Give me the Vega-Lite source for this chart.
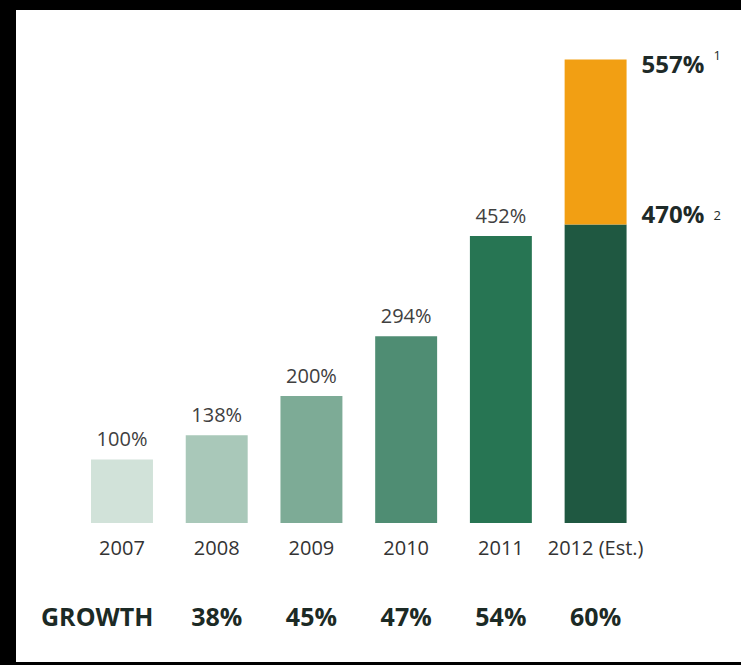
{
  "$schema": "https://vega.github.io/schema/vega-lite/v6.json",
  "width": 725,
  "height": 652,
  "autosize": {"type": "none"},
  "padding": {"left": 16, "top": 10, "right": 0, "bottom": 3},
  "background": "black",
  "config": {
    "view": {"fill": "white", "stroke": null},
    "text": {"font": "Open Sans"}
  },
  "datasets": {
    "bars": [
      {"year": "2007", "segment": "2007", "start": 0, "end": 100, "label": "100%"},
      {"year": "2008", "segment": "2008", "start": 0, "end": 138, "label": "138%"},
      {"year": "2009", "segment": "2009", "start": 0, "end": 200, "label": "200%"},
      {"year": "2010", "segment": "2010", "start": 0, "end": 294, "label": "294%"},
      {"year": "2011", "segment": "2011", "start": 0, "end": 452, "label": "452%"},
      {"year": "2012 (Est.)", "segment": "2012", "start": 0, "end": 470, "label": "470%"},
      {"year": "2012 (Est.)", "segment": "2012 upper", "start": 470, "end": 730, "label": "557%"}
    ],
    "years": [
      {"year": "2007", "growth": ""},
      {"year": "2008", "growth": "38%"},
      {"year": "2009", "growth": "45%"},
      {"year": "2010", "growth": "47%"},
      {"year": "2011", "growth": "54%"},
      {"year": "2012 (Est.)", "growth": "60%"}
    ],
    "notes": [
      {"year": "2012 (Est.)", "segment": "2012 upper", "end": 730, "label": "557%", "note": "1"},
      {"year": "2012 (Est.)", "segment": "2012", "end": 470, "label": "470%", "note": "2"}
    ]
  },
  "encoding": {
    "x": {
      "field": "year",
      "type": "nominal",
      "sort": null,
      "axis": null,
      "scale": {
        "domain": ["2007", "2008", "2009", "2010", "2011", "2012 (Est.)"],
        "paddingInner": 0.346,
        "paddingOuter": 1.026,
        "align": 0.396
      }
    }
  },
  "layer": [
    {
      "data": {"name": "bars"},
      "mark": {"type": "bar"},
      "encoding": {
        "y": {
          "field": "end",
          "type": "quantitative",
          "axis": null,
          "scale": {"domain": [-219, 808], "nice": false, "zero": false}
        },
        "y2": {"field": "start"},
        "color": {
          "field": "segment",
          "type": "nominal",
          "legend": null,
          "scale": {
            "domain": ["2007", "2008", "2009", "2010", "2011", "2012", "2012 upper"],
            "range": ["#d1e2d9", "#a9c8b9", "#7dab96", "#4f8d73", "#277553", "#1f5841", "#f29f13"]
          }
        }
      }
    },
    {
      "data": {"name": "bars"},
      "transform": [{"filter": "datum.year != '2012 (Est.)'"}],
      "mark": {"type": "text", "baseline": "alphabetic", "dy": -13, "fontSize": 20, "color": "#404040"},
      "encoding": {
        "y": {"field": "end", "type": "quantitative"},
        "text": {"field": "label"}
      }
    },
    {
      "data": {"name": "years"},
      "mark": {"type": "text", "baseline": "alphabetic", "fontSize": 20, "color": "#333333"},
      "encoding": {
        "y": {"datum": -50},
        "text": {"field": "year"}
      }
    },
    {
      "data": {"name": "years"},
      "mark": {"type": "text", "baseline": "alphabetic", "fontSize": 25, "fontWeight": "bold", "color": "#1c2a25"},
      "encoding": {
        "y": {"datum": -163},
        "text": {"field": "growth"}
      }
    },
    {
      "data": {"values": [{"row": "GROWTH"}]},
      "mark": {"type": "text", "baseline": "alphabetic", "align": "left", "dx": -50, "fontSize": 25, "fontWeight": "bold", "color": "#1c2a25"},
      "encoding": {
        "x": {"datum": "2007", "bandPosition": 0},
        "y": {"datum": -163},
        "text": {"field": "row"}
      }
    },
    {
      "data": {"name": "notes"},
      "transform": [{"filter": "datum.note == '1'"}],
      "layer": [
        {
          "mark": {"type": "text", "baseline": "alphabetic", "align": "left", "dx": 15, "dy": 13, "fontSize": 24, "fontWeight": "bold", "color": "#1e2a28"},
          "encoding": {
            "x": {"field": "year", "bandPosition": 1},
            "y": {"field": "end", "type": "quantitative"},
            "text": {"field": "label"}
          }
        },
        {
          "mark": {"type": "text", "baseline": "alphabetic", "align": "left", "dx": 87, "dy": 0, "fontSize": 13, "color": "#1e2a28"},
          "encoding": {
            "x": {"field": "year", "bandPosition": 1},
            "y": {"field": "end", "type": "quantitative"},
            "text": {"field": "note"}
          }
        }
      ]
    },
    {
      "data": {"name": "notes"},
      "transform": [{"filter": "datum.note == '2'"}],
      "layer": [
        {
          "mark": {"type": "text", "baseline": "alphabetic", "align": "left", "dx": 15, "dy": -1.5, "fontSize": 24, "fontWeight": "bold", "color": "#1e2a28"},
          "encoding": {
            "x": {"field": "year", "bandPosition": 1},
            "y": {"field": "end", "type": "quantitative"},
            "text": {"field": "label"}
          }
        },
        {
          "mark": {"type": "text", "baseline": "alphabetic", "align": "left", "dx": 87, "dy": -4.5, "fontSize": 13, "color": "#1e2a28"},
          "encoding": {
            "x": {"field": "year", "bandPosition": 1},
            "y": {"field": "end", "type": "quantitative"},
            "text": {"field": "note"}
          }
        }
      ]
    }
  ]
}
